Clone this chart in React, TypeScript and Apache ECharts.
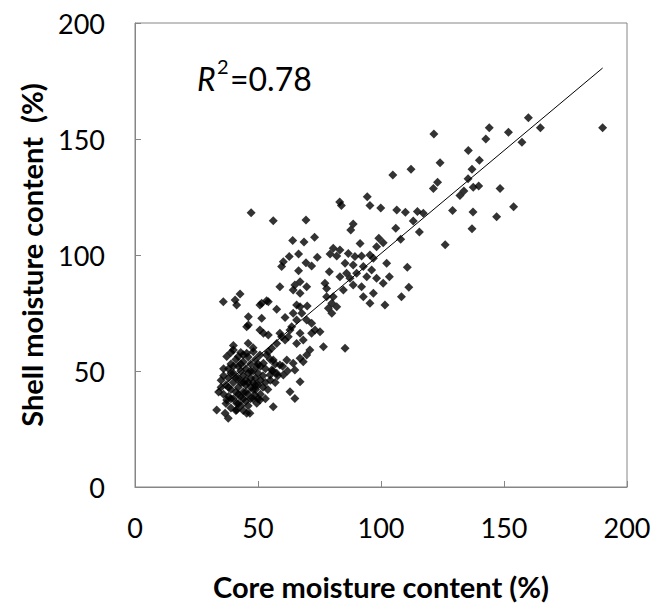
import React, { useEffect, useRef } from "react";
import * as echarts from "echarts";

// Axis ticks
const xTicks = [0, 50, 100, 150, 200];
const yTicks = [0, 50, 100, 150, 200];

// Observations [core moisture %, shell moisture %]
const upperPoints = [
  [159.9, 159.2], [144, 154.9], [151.8, 152.9], [164.8, 154.9], [190.1, 154.9],
  [142.6, 150], [157.3, 148.6], [135.5, 145], [140, 140.8], [124, 139.8],
  [137, 137], [135.4, 132.9], [123, 131.4], [137.5, 129.2], [139.7, 129.7],
  [148.4, 128.7], [133.7, 127.6], [132.1, 125.7], [129.1, 119.2], [137.4, 118.5],
  [153.9, 120.8], [147, 116.5], [137, 111.3], [126.1, 104.4], [121.5, 152.2],
  [121.3, 128.7],
];

const midHighPoints = [
  [112.2, 137], [104.8, 134.5], [83.9, 121.3], [83.2, 122.8], [94.4, 125.1],
  [95.5, 121.3], [99.9, 120.3], [106.4, 119.4], [109.9, 118.4], [114.8, 118.8],
  [117.2, 118], [113.1, 114.7], [106, 111.5], [115.6, 109.9], [88.7, 113.4],
  [87.7, 110.8], [91.5, 105], [99.1, 107.2], [100.9, 105.3], [98.2, 103.6],
  [108, 106.8],
];

const midPoints = [
  [80.6, 102.9], [83.3, 102.2], [79.3, 100.4], [82, 99.6], [86.7, 100.7],
  [89.4, 99.3], [92.1, 99.6], [95.5, 100], [96.9, 98.6], [85.4, 96.4],
  [88.7, 95.7], [92.8, 95], [96.2, 93.5], [86, 92.1], [90.1, 92.1],
  [83.3, 90.6], [87.4, 90], [94.2, 90.6], [98.2, 90], [92.1, 86.3],
  [88.7, 87.1], [84.7, 84.9], [80.6, 82], [80, 79.2], [102.3, 96.4],
  [103.4, 90.6], [110.7, 94.7], [100.9, 87.8], [96.9, 83.5], [92.8, 82],
  [101.6, 78.4], [108.3, 82], [111.3, 86.1], [95.5, 79.2], [80, 74.9],
  [78.6, 77], [77.9, 82],
];

const leftUpperPoints = [
  [47.2, 118.2], [56.2, 114.8], [69.5, 115.1], [64.1, 106.2], [68.7, 105.6],
  [73, 107.6], [62.7, 99.3], [60.3, 97.1], [59.6, 95], [66.5, 100.4],
  [74.1, 99], [69.5, 96.7], [71.8, 95.3], [66.5, 93.2], [79, 92.8],
  [58.9, 86.3], [65, 87.1], [67.1, 88.5], [69.8, 86.3], [64.3, 84.9],
  [67.1, 83.5], [77.2, 87.8], [77.9, 85.6], [35.9, 79.9], [40.7, 80.6],
  [42.7, 83.2], [41.3, 78.4], [51.5, 79.2], [53.5, 80.3], [65.7, 78.4],
  [70, 78], [82, 77.7],
];

const lowerMidPoints = [
  [46.1, 73.4], [46.1, 69.8], [51.5, 72.7], [57.6, 76.6], [61, 73.1],
  [50.8, 67.7], [52.2, 66.3], [54.2, 65.5], [67.1, 77.7], [67.8, 74.9],
  [65.7, 72], [63.7, 69.1], [62.3, 64.8], [61, 63.4], [71.8, 70.6],
  [73.2, 67.7], [58.9, 66.3], [57.6, 61.9], [55.6, 59.8], [67.1, 66.3],
  [68.4, 63.4], [65.7, 61.9], [76.6, 60.5], [71.1, 59.1], [69.8, 56.9],
  [67.1, 55.5], [68.4, 54], [64.3, 53.3], [61.7, 54.7], [67.1, 45.4],
  [63, 41.1], [65, 38.2], [56.2, 34.6], [85.4, 59.8], [50.8, 78.4],
  [54.2, 79.9], [45.4, 69.1], [64.3, 74.9], [75.2, 66.9], [71.8, 66.3],
  [69.8, 72], [59.6, 64.8], [63, 67.7], [60.3, 48.3], [57.6, 49],
  [55.6, 50.4], [58.9, 52.6], [56.2, 54.7], [53.5, 56.9], [54.2, 58.3],
  [65, 50.4], [54.9, 48.3],
];

const clusterPoints = [
  [37.9, 29.6], [36.6, 31.8], [33.2, 33.2], [46.7, 31.8], [41.3, 33.2],
  [48.8, 39.7], [50.8, 37.5], [49.5, 36.1], [45.4, 31.8], [37.3, 37.5],
  [41.3, 36.1], [40, 59.1], [37.3, 56.2], [42, 56.2], [45.4, 57.6],
  [48.1, 58.3], [50.8, 56.9], [52.2, 53.3], [49.5, 51.9],
  [36, 40], [37, 44], [38, 47], [38, 51], [39, 42], [39, 53], [40, 38],
  [40, 45], [40, 49], [41, 41], [41, 55], [42, 36], [42, 43], [42, 47],
  [42, 52], [43, 39], [43, 45], [43, 50], [44, 41], [44, 48], [44, 54],
  [45, 37], [45, 44], [45, 46], [45, 51], [46, 40], [46, 49], [46, 56],
  [47, 43], [47, 47], [47, 53], [48, 38], [48, 45], [48, 50], [49, 42],
  [49, 47], [49, 55], [50, 44], [50, 49], [51, 40], [51, 46], [51, 52],
  [52, 43], [52, 48], [53, 45], [53, 51], [54, 42], [55, 46], [56, 50],
  [36, 48], [37, 36], [38, 39], [39, 34], [41, 33], [43, 35], [44, 33],
  [46, 35], [50, 38], [53, 38], [57, 45], [58, 48], [60, 52], [62, 50],
  [40, 61], [43, 58], [46, 62], [48, 60], [55, 55], [57, 53], [35, 46],
  [34, 41], [39, 58], [44, 57], [35, 43], [36, 51], [38, 43], [39, 49],
  [40, 52], [41, 47], [42, 40], [43, 53], [44, 45], [45, 41], [46, 45],
  [47, 50], [48, 42], [49, 44], [50, 53], [47, 38], [44, 38], [39, 38],
];

// Linear trend line end points
const trendStart = [33.2, 41.4];
const trendEnd = [190.1, 180.6];

const rSquaredLabel = "=0.78";
const xTitle = "Core moisture content (%)";
const yTitle = "Shell moisture content  (%)";

export default function App() {
  const ref = useRef<HTMLDivElement>(null);

  useEffect(() => {
    if (!ref.current) return;
    const chart = echarts.init(ref.current, null, { renderer: "svg" });
    const axisColor = "#868686";
    const font = "Lato";
    const allPoints = [
      ...upperPoints,
      ...midHighPoints,
      ...midPoints,
      ...leftUpperPoints,
      ...lowerMidPoints,
      ...clusterPoints,
    ];
    const commonAxis = {
      type: "value",
      splitLine: { show: false },
      axisLine: { show: true, lineStyle: { color: axisColor, width: 1 } },
      axisTick: { show: true, inside: true, length: 6, lineStyle: { color: axisColor } },
    };
    chart.setOption({
      animation: false,
      backgroundColor: "#ffffff",
      grid: {
        left: 135,
        top: 23,
        right: 40,
        bottom: 119,
        show: true,
        borderColor: axisColor,
        borderWidth: 1,
      },
      xAxis: {
        ...commonAxis,
        min: xTicks[0],
        max: xTicks[xTicks.length - 1],
        interval: xTicks[1] - xTicks[0],
        axisLabel: { color: "#000", fontSize: 27, fontFamily: font, margin: 27 },
      },
      yAxis: {
        ...commonAxis,
        min: yTicks[0],
        max: yTicks[yTicks.length - 1],
        interval: yTicks[1] - yTicks[0],
        axisLabel: { color: "#000", fontSize: 27, fontFamily: font, margin: 30 },
      },
      series: [
        {
          type: "scatter",
          data: allPoints,
          symbol: "diamond",
          symbolSize: 9,
          itemStyle: { color: "#000" },
          z: 2,
        },
        {
          type: "line",
          data: [trendStart, trendEnd],
          showSymbol: false,
          lineStyle: { color: "#000", width: 1 },
          z: 3,
        },
      ],
      graphic: [
        {
          type: "text",
          x: 197,
          y: 78,
          style: {
            text: "R",
            fill: "#000",
            font: `italic 32px ${font}`,
            verticalAlign: "middle",
          },
        },
        {
          type: "text",
          x: 217,
          y: 66,
          style: {
            text: "2",
            fill: "#000",
            font: `20px ${font}`,
            verticalAlign: "middle",
          },
        },
        {
          type: "text",
          x: 230,
          y: 78,
          style: {
            text: rSquaredLabel,
            fill: "#000",
            font: `32px ${font}`,
            verticalAlign: "middle",
          },
        },
        {
          type: "text",
          x: 381,
          y: 586,
          style: {
            text: xTitle,
            fill: "#000",
            font: `bold 29px ${font}`,
            align: "center",
            verticalAlign: "middle",
          },
        },
        {
          type: "text",
          x: 31,
          y: 255,
          rotation: Math.PI / 2,
          style: {
            text: yTitle,
            fill: "#000",
            font: `bold 29px ${font}`,
            align: "center",
            verticalAlign: "middle",
          },
        },
      ],
    });
    return () => chart.dispose();
  }, []);

  return (
    <div
      ref={ref}
      style={{ position: "absolute", left: 0, top: 0, width: 667, height: 606, background: "#fff" }}
    />
  );
}
